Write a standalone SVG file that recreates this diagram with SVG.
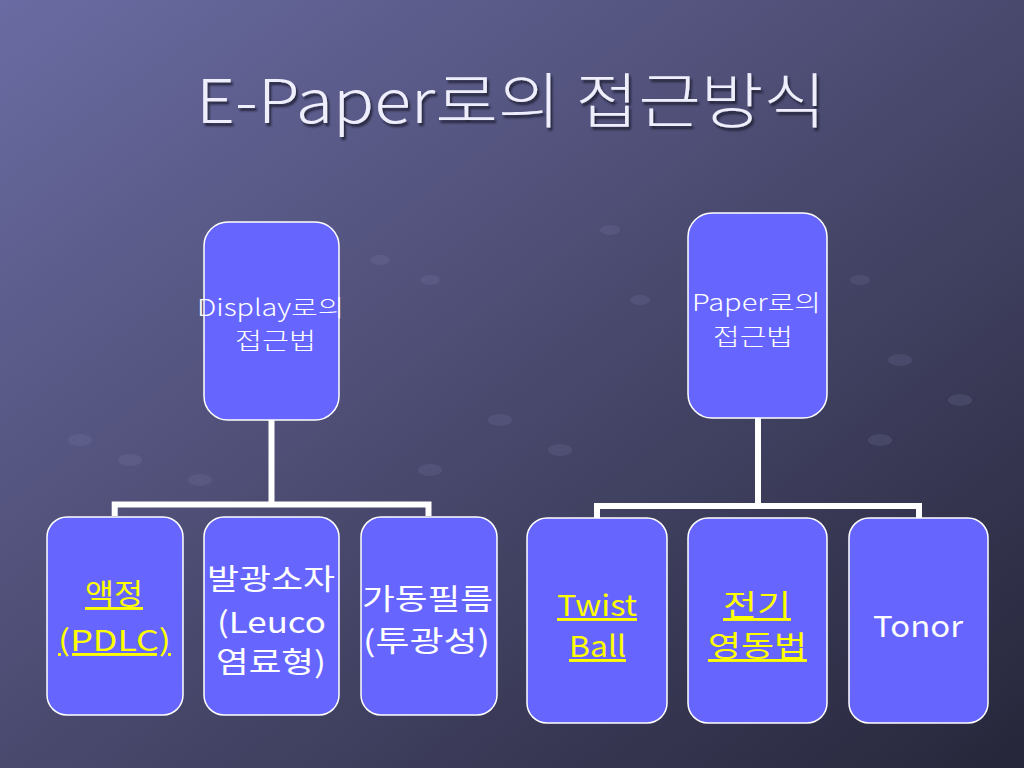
<svg xmlns="http://www.w3.org/2000/svg" width="1024" height="768" viewBox="0 0 1024 768">
<defs>
<linearGradient id="bg" x1="0" y1="0" x2="1" y2="1">
<stop offset="0" stop-color="#6a6ba2"/>
<stop offset="0.45" stop-color="#4d4d74"/>
<stop offset="1" stop-color="#26263a"/>
</linearGradient>
<filter id="sh" x="-5%" y="-20%" width="110%" height="140%">
<feDropShadow dx="2" dy="3" stdDeviation="1.2" flood-color="#1a1a2a" flood-opacity="0.8"/>
</filter>
</defs>
<style>
.node{fill:#6666ff;stroke:#ffffff;stroke-width:1.5}
.conn{fill:none;stroke:#ffffff;stroke-width:6;stroke-linejoin:miter}
.t{font-family:"Noto Sans CJK KR","Liberation Sans",sans-serif;font-weight:300;text-anchor:middle;fill:#ffffff}
.s{font-size:23px}
.m{font-size:29px;font-weight:400}
.y{fill:#ffff00;text-decoration:underline}
.title{font-family:"Noto Sans CJK KR","Liberation Sans",sans-serif;font-weight:300;font-size:60px;fill:#eeeefc;text-anchor:middle}
</style>
<rect width="1024" height="768" fill="url(#bg)"/>
<g id="bgdots" fill="#8a8ab8" opacity="0.16">
<ellipse cx="330" cy="240" rx="10" ry="5"/><ellipse cx="380" cy="260" rx="10" ry="5"/><ellipse cx="430" cy="280" rx="10" ry="5"/>
<ellipse cx="130" cy="460" rx="12" ry="6"/><ellipse cx="80" cy="440" rx="12" ry="6"/><ellipse cx="200" cy="480" rx="12" ry="6"/>
<ellipse cx="610" cy="230" rx="10" ry="5"/><ellipse cx="640" cy="300" rx="10" ry="5"/><ellipse cx="860" cy="280" rx="10" ry="5"/>
<ellipse cx="900" cy="360" rx="12" ry="6"/><ellipse cx="960" cy="400" rx="12" ry="6"/><ellipse cx="880" cy="440" rx="12" ry="6"/>
<ellipse cx="500" cy="420" rx="12" ry="6"/><ellipse cx="560" cy="450" rx="12" ry="6"/><ellipse cx="430" cy="470" rx="12" ry="6"/>
</g>
<text class="title" x="511" y="123" textLength="630" lengthAdjust="spacingAndGlyphs" filter="url(#sh)">E-Paper로의 접근방식</text>
<g id="connectors">
<path class="conn" d="M271.5 420 V504.5 M114.7 516 V504.5 H428.5 V516"/>
<path class="conn" d="M758 418 V506 M597 518 V506 H919 V518"/>
</g>
<g id="n-display">
<rect class="node" x="204" y="222" width="135" height="198" rx="24"/>
<text class="t s" x="270.5" y="316" textLength="147" lengthAdjust="spacingAndGlyphs">Display로의</text>
<text class="t s" x="275.5" y="349" textLength="81" lengthAdjust="spacingAndGlyphs">접근법</text>
</g>
<g id="n-paper">
<rect class="node" x="688" y="213" width="139" height="205" rx="24"/>
<text class="t s" x="756.5" y="311" textLength="129" lengthAdjust="spacingAndGlyphs">Paper로의</text>
<text class="t s" x="753" y="345" textLength="80" lengthAdjust="spacingAndGlyphs">접근법</text>
</g>
<g id="n-lc">
<rect class="node" x="47" y="517" width="136" height="198" rx="20"/>
<text class="t m y" x="114" y="605" textLength="58" lengthAdjust="spacingAndGlyphs">액정</text>
<text class="t m y" x="114.5" y="651" textLength="113" lengthAdjust="spacingAndGlyphs">(PDLC)</text>
</g>
<g id="n-emissive">
<rect class="node" x="204" y="517" width="135" height="198" rx="20"/>
<text class="t m" x="271" y="590" textLength="128" lengthAdjust="spacingAndGlyphs">발광소자</text>
<text class="t m" x="271.5" y="633" textLength="109" lengthAdjust="spacingAndGlyphs">(Leuco</text>
<text class="t m" x="271" y="673" textLength="110" lengthAdjust="spacingAndGlyphs">염료형)</text>
</g>
<g id="n-film">
<rect class="node" x="361" y="517" width="136" height="198" rx="20"/>
<text class="t m" x="427.5" y="610" textLength="131" lengthAdjust="spacingAndGlyphs">가동필름</text>
<text class="t m" x="426.5" y="652" textLength="127" lengthAdjust="spacingAndGlyphs">(투광성)</text>
</g>
<g id="n-twist">
<rect class="node" x="527" y="518" width="140" height="205" rx="20"/>
<text class="t m y" x="597" y="616" textLength="80" lengthAdjust="spacingAndGlyphs">Twist</text>
<text class="t m y" x="597.5" y="657" textLength="57" lengthAdjust="spacingAndGlyphs">Ball</text>
</g>
<g id="n-electro">
<rect class="node" x="688" y="518" width="139" height="205" rx="20"/>
<text class="t m y" x="757" y="616" textLength="68" lengthAdjust="spacingAndGlyphs">전기</text>
<text class="t m y" x="757.5" y="657" textLength="99" lengthAdjust="spacingAndGlyphs">영동법</text>
</g>
<g id="n-tonor">
<rect class="node" x="849" y="518" width="139" height="205" rx="20"/>
<text class="t m" x="918" y="637" textLength="90" lengthAdjust="spacingAndGlyphs">Tonor</text>
</g>
</svg>
